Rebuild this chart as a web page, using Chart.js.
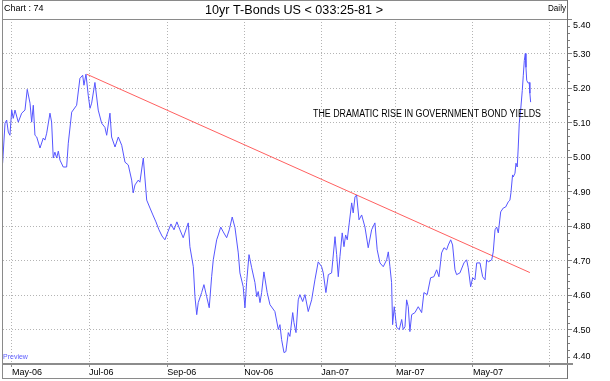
<!DOCTYPE html>
<html>
<head>
<meta charset="utf-8">
<title>10yr T-Bonds US</title>
<script src="https://cdn.jsdelivr.net/npm/chart.js@4.4.1/dist/chart.umd.min.js"></script>
<style>
  html, body { margin: 0; padding: 0; background: #fff; }
  canvas { display: block; }
</style>
</head>
<body>
<canvas id="bondChart" width="610" height="381"></canvas>
<script>
// x = days counted from 1 May 2006, y = yield in %
const days = [
  -7.4, -5.5, -4.2, -2.9, -1.6, -0.2, 1.0, 2.4, 5.0, 7.7,
  10.3, 12.1, 14.3, 15.6, 16.9, 18.2, 19.6, 22.2, 24.8, 26.1,
  27.5, 30.1, 31.4, 32.7, 34.0, 35.4, 36.7, 38.0, 40.6, 43.3,
  44.6, 47.3, 51.2, 53.8, 56.0, 57.0, 58.6, 60.4, 61.8, 63.1,
  65.7, 68.3, 71.0, 73.6, 75.0, 77.6, 78.9, 81.6, 84.2, 86.9,
  89.5, 92.1, 94.8, 96.0, 97.4, 100.0, 101.3, 104.0, 106.7, 109.3,
  111.6, 114.0, 116.4, 118.8, 121.1, 123.5, 125.9, 128.3, 130.6,
  133.0, 135.6, 138.3, 139.6, 140.9, 143.6, 144.9, 146.3, 147.5, 150.2,
  152.0, 154.2, 156.2, 158.1, 159.4, 162.1, 163.4, 165.3, 167.3, 170.0,
  172.1, 174.4, 176.6, 179.2, 180.5, 183.1, 184.5, 185.8, 187.7, 189.8,
  192.4, 193.8, 195.0, 196.4, 197.7, 199.5, 202.1, 204.3, 208.2, 210.9,
  212.2, 213.5, 215.4, 216.9, 218.8, 220.1, 222.3, 223.3, 224.9, 226.7,
  228.0, 230.2, 232.0, 234.6, 237.3, 239.9, 242.5, 245.2, 246.5, 248.6,
  250.5, 253.1, 255.8, 257.1, 258.4, 259.7, 261.5, 262.9, 264.2, 265.5,
  267.1, 269.0, 270.2, 271.6, 272.9, 274.8, 276.9, 279.5, 282.1, 284.8,
  287.4, 289.2, 291.4, 294.0, 296.7, 298.0, 299.3, 300.6, 301.4, 302.7,
  304.6, 306.7, 308.6, 309.8, 311.2, 312.5, 313.8, 315.1, 316.5, 319.1,
  321.7, 324.4, 326.2, 328.8, 331.5, 334.1, 336.3, 338.1, 340.2, 342.1,
  344.2, 345.5, 347.4, 348.9, 350.8, 352.1, 354.7, 357.9, 360.0, 361.3,
  363.2, 364.8, 366.6, 368.0, 370.6, 372.7, 374.6, 375.9, 377.2, 379.9,
  381.1, 382.5, 383.8, 385.1, 387.0, 389.0, 390.9, 393.0, 394.3, 395.1,
  396.4, 396.9, 398.3, 399.1, 400.1, 400.9, 401.7, 402.8, 404.1, 404.9,
  405.7, 406.5, 407.0, 407.6, 408.8, 409.6, 410.1, 410.7
];
const yields = [
  4.982, 5.098, 5.107, 5.072, 5.063, 5.136, 5.112, 5.136, 5.101, 5.127,
  5.136, 5.196, 5.156, 5.101, 5.150, 5.063, 5.058, 5.026, 5.055, 5.049,
  5.069, 5.127, 5.101, 4.997, 5.014, 4.997, 5.017, 4.991, 4.971, 4.971,
  5.040, 5.130, 5.150, 5.228, 5.237, 5.208, 5.240, 5.179, 5.141, 5.156,
  5.216, 5.136, 5.098, 5.086, 5.063, 5.127, 5.058, 5.029, 5.058, 5.034,
  4.985, 4.977, 4.933, 4.896, 4.919, 4.933, 4.927, 4.997, 4.875, 4.852,
  4.832, 4.812, 4.789, 4.771, 4.760, 4.783, 4.806, 4.789, 4.812,
  4.789, 4.766, 4.795, 4.809, 4.740, 4.682, 4.595, 4.543, 4.578, 4.607,
  4.630, 4.595, 4.563, 4.653, 4.702, 4.760, 4.774, 4.797, 4.783, 4.766,
  4.789, 4.826, 4.795, 4.722, 4.664, 4.624, 4.563, 4.636, 4.717, 4.679,
  4.636, 4.595, 4.610, 4.578, 4.607, 4.667, 4.607, 4.572, 4.552, 4.500,
  4.514, 4.471, 4.433, 4.436, 4.491, 4.480, 4.549, 4.520, 4.491, 4.586,
  4.601, 4.581, 4.601, 4.552, 4.586, 4.644, 4.696, 4.682, 4.664, 4.607,
  4.659, 4.664, 4.769, 4.717, 4.653, 4.711, 4.780, 4.740, 4.774, 4.760,
  4.809, 4.867, 4.838, 4.884, 4.890, 4.818, 4.832, 4.797, 4.737, 4.789,
  4.809, 4.731, 4.693, 4.682, 4.702, 4.725, 4.682, 4.636, 4.514, 4.566,
  4.506, 4.500, 4.529, 4.500, 4.508, 4.586, 4.566, 4.494, 4.543, 4.549,
  4.566, 4.549, 4.607, 4.601, 4.650, 4.653, 4.673, 4.653, 4.722, 4.737,
  4.731, 4.745, 4.760, 4.745, 4.673, 4.659, 4.664, 4.693, 4.702, 4.679,
  4.624, 4.650, 4.644, 4.693, 4.693, 4.653, 4.644, 4.702, 4.696, 4.702,
  4.725, 4.789, 4.797, 4.780, 4.841, 4.852, 4.855, 4.870, 4.875, 4.896,
  4.948, 4.942, 4.953, 4.982, 4.971, 5.029, 5.098, 5.136, 5.193, 5.237,
  5.280, 5.300, 5.260, 5.222, 5.214, 5.216, 5.185, 5.159
];

// hand drawn trend line from the 2006 top
const trendDays = [59.2, 410.1];
const trendYields = [5.240, 4.665];

const monthTicks = [0, 61, 123, 184, 245, 304, 365, 426];
const monthLabels = ["May-06", "Jul-06", "Sep-06", "Nov-06", "Jan-07", "Mar-07", "May-07", ""];
const yMin = 4.4, yMax = 5.4;

const FONT = "'Liberation Sans', Arial, sans-serif";

const framePlugin = {
    id: "frame",
    beforeDraw(chart) {
        const ctx = chart.ctx;
        ctx.save();
        ctx.fillStyle = "#fff";
        ctx.fillRect(0, 0, chart.width, chart.height);
        ctx.restore();
    },
    afterDraw(chart) {
        const ctx = chart.ctx;
        const area = chart.chartArea;
        const yScale = chart.scales.y;
        ctx.save();

        // small ticks between the labelled ones
        ctx.strokeStyle = "#808080";
        ctx.lineWidth = 1;
        for (let i = 1; i < 50; i++) {
            if (i % 5 === 0) continue;
            const py = Math.round(yScale.getPixelForValue(yMin + i * 0.02)) + 0.5;
            ctx.beginPath();
            ctx.moveTo(area.right, py);
            ctx.lineTo(area.right + 3, py);
            ctx.stroke();
        }

        // end labels sit inside the box, like the original
        ctx.fillStyle = "#000";
        ctx.font = "9px " + FONT;
        ctx.textAlign = "left";
        ctx.textBaseline = "middle";
        ctx.fillText(yMax.toFixed(2), area.right + 6, yScale.getPixelForValue(yMax) + 7);
        ctx.fillText(yMin.toFixed(2), area.right + 6, yScale.getPixelForValue(yMin) - 7);

        // outer box and title row
        ctx.strokeStyle = "#8a8a8a";
        ctx.beginPath();
        ctx.moveTo(2.5, 0.5);
        ctx.lineTo(area.right + 0.5, 0.5);
        ctx.moveTo(2.5, 0);
        ctx.lineTo(2.5, 379);
        ctx.moveTo(2, 378.5);
        ctx.lineTo(area.right + 1, 378.5);
        ctx.moveTo(2, 19.5);
        ctx.lineTo(area.right, 19.5);
        ctx.stroke();
        ctx.strokeStyle = "#707070";
        ctx.beginPath();
        ctx.moveTo(area.right + 0.5, 0);
        ctx.lineTo(area.right + 0.5, 379);
        ctx.stroke();

        // thick base line under the plot
        ctx.fillStyle = "#8c8c8c";
        ctx.fillRect(2, area.bottom - 1, area.right - 2 + 6, 2);

        ctx.fillStyle = "#000";
        ctx.textAlign = "left";
        ctx.font = "9px " + FONT;
        ctx.fillText("Chart : 74", 4, 9);
        ctx.textAlign = "right";
        ctx.fillText("Daily", area.right - 1, 9, 18);
        ctx.textAlign = "center";
        ctx.font = "13px " + FONT;
        ctx.fillText("10yr T-Bonds US < 033:25-81 >", 294, 10, 178);

        ctx.textAlign = "left";
        ctx.font = "10px " + FONT;
        ctx.fillText("THE DRAMATIC RISE IN GOVERNMENT BOND YIELDS", 313, 114, 228);

        ctx.fillStyle = "#5c5cff";
        ctx.font = "7px " + FONT;
        ctx.fillText("Preview", 3, 357);
        ctx.restore();
    }
};

new Chart(document.getElementById("bondChart"), {
    type: "line",
    data: {
        datasets: [
            {
                label: "10yr T-Bonds",
                data: days.map((d, i) => ({ x: d, y: yields[i] })),
                borderColor: "#5656ff",
                borderWidth: 1,
                pointRadius: 0,
                tension: 0
            },
            {
                label: "Trend",
                data: trendDays.map((d, i) => ({ x: d, y: trendYields[i] })),
                borderColor: "#ff6060",
                borderWidth: 1,
                pointRadius: 0,
                tension: 0
            }
        ]
    },
    options: {
        responsive: false,
        animation: false,
        devicePixelRatio: 1,
        layout: { padding: { left: 3, top: 19, right: 0, bottom: 0 } },
        plugins: {
            legend: { display: false },
            tooltip: { enabled: false }
        },
        scales: {
            x: {
                type: "linear",
                min: -7.1,
                max: 439.5,
                afterBuildTicks: scale => {
                    scale.ticks = monthTicks.map(v => ({ value: v }));
                },
                afterFit: scale => { scale.height = 17; },
                grid: {
                    color: "#b4b4b4",
                    tickColor: "#909090",
                    tickLength: 3
                },
                border: { display: false, dash: [1, 2] },
                ticks: {
                    autoSkip: false,
                    maxRotation: 0,
                    align: "start",
                    padding: 0,
                    color: "#000",
                    font: { family: FONT, size: 9 },
                    callback: (v, i) => monthLabels[i]
                }
            },
            y: {
                position: "right",
                min: yMin,
                max: yMax,
                afterFit: scale => { scale.width = 43; },
                grid: {
                    color: "#b4b4b4",
                    tickColor: "#808080",
                    tickLength: 5
                },
                border: { display: false, dash: [1, 2] },
                ticks: {
                    stepSize: 0.1,
                    padding: 1,
                    labelOffset: 1,
                    color: "#000",
                    font: { family: FONT, size: 9 },
                    // the two end labels are drawn by the frame plugin
                    callback: v => (v <= yMin + 0.001 || v >= yMax - 0.001) ? "" : v.toFixed(2)
                }
            }
        }
    },
    plugins: [framePlugin]
});
</script>
</body>
</html>
